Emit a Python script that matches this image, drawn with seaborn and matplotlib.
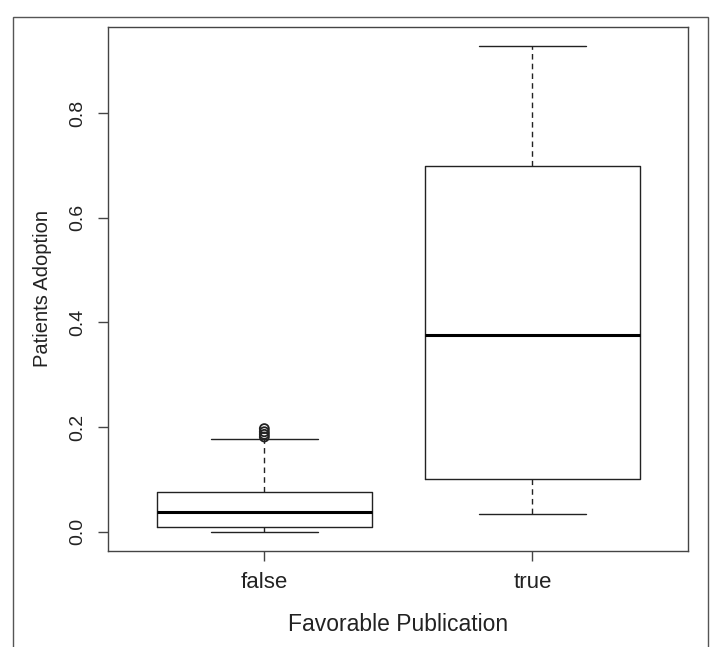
import matplotlib
matplotlib.use("Agg")
import matplotlib.pyplot as plt
from matplotlib.patches import Rectangle
import pandas as pd
import seaborn as sns

sns.set_style("ticks")
plt.rcParams["font.family"] = ["Liberation Sans", "DejaVu Sans"]

# five-number summaries: min, Q1, median, Q3, max (whisker ends)
GROUPS = ["false", "true"]
FALSE_STATS = [0.0, 0.0096, 0.037, 0.075, 0.178]
TRUE_STATS = [0.034, 0.100, 0.376, 0.699, 0.928]
# outliers above the upper whisker of "false"
FALSE_FLIERS = [0.181, 0.186, 0.191, 0.197]

Y_TICKS = [0.0, 0.2, 0.4, 0.6, 0.8]
Y_TICK_LABELS = ["0.0", "0.2", "0.4", "0.6", "0.8"]

df = pd.DataFrame({
    "group": ["false"] * len(FALSE_STATS) + ["true"] * len(TRUE_STATS),
    "value": FALSE_STATS + TRUE_STATS,
})
fliers = pd.DataFrame({"group": ["false"] * len(FALSE_FLIERS), "value": FALSE_FLIERS})

ink = "#222222"

fig = plt.figure(figsize=(7.1, 6.47), dpi=100)
ax = fig.add_axes([108 / 710, 1 - 550.7 / 647, (688 - 108) / 710, (550.7 - 27) / 647])

sns.boxplot(data=df, x="group", y="value", order=GROUPS, width=0.8, whis=(0, 100),
            fill=False, color=ink, linecolor=ink, linewidth=1.0, showfliers=False,
            whiskerprops=dict(linestyle=(0, (4, 3))),
            medianprops=dict(linewidth=2.2, color="black"),
            ax=ax)
sns.stripplot(data=fliers, x="group", y="value", order=GROUPS, jitter=False,
              marker="o", size=6.5, color="none", edgecolor=ink, linewidth=1.3, ax=ax)

ax.set_xlim(-0.583, 1.58)
ax.set_ylim(-0.0363, 0.9645)
ax.set_yticks(Y_TICKS)
ax.set_yticklabels(Y_TICK_LABELS, rotation=90, va="center", fontsize=14, color=ink)
for lab in ax.get_xticklabels():
    lab.set_fontsize(16)
    lab.set_color(ink)
ax.tick_params(axis="both", direction="out", length=7, width=1, color="#444444")
ax.tick_params(axis="y", pad=9)
ax.tick_params(axis="x", pad=8)

ax.set_xlabel("Favorable Publication", fontsize=16.5, color=ink, labelpad=15)
ax.set_ylabel("Patients Adoption", fontsize=14.5, color=ink, labelpad=12)

for s in ax.spines.values():
    s.set_visible(True)
    s.set_color("#444444")
    s.set_linewidth(1.0)

# outer frame of the original figure
fig.add_artist(Rectangle((13 / 710, -0.02), (708 - 13) / 710, 1 - 17 / 647 + 0.02,
                         transform=fig.transFigure, fill=False, edgecolor="#555555", linewidth=1.0))

fig.savefig("out.png", dpi=100)
